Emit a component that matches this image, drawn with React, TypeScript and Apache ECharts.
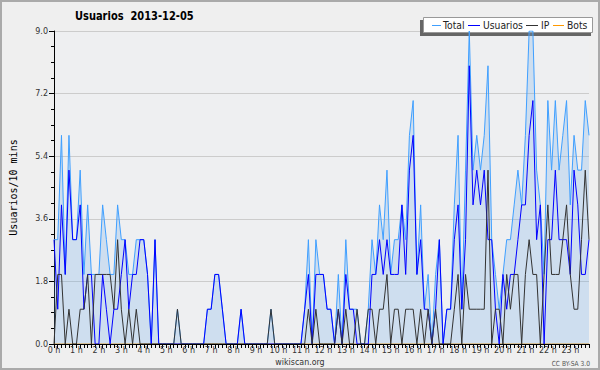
import React, { useEffect, useRef } from "react";
import * as echarts from "echarts";

const hourLabels = [
  "0 h", "1 h", "2 h", "3 h", "4 h", "5 h", "6 h", "7 h", "8 h", "9 h", "10 h", "11 h",
  "12 h", "13 h", "14 h", "15 h", "16 h", "17 h", "18 h", "19 h", "20 h", "21 h", "22 h", "23 h",
];
const minuteSteps = ["", ":10", ":20", ":30", ":40", ":50"];
const yTicks = [0, 1.8, 3.6, 5.4, 7.2, 9.0];
const seriesNames = ["Total", "Usuarios", "IP", "Bots"];
const seriesColors = ["#3f9fff", "#0000ff", "#333333", "#ff9900"];

const total = [
  3, 3, 6, 2, 6, 3, 3, 5, 2, 4, 2, 2, 2, 4, 3, 2, 2, 4, 3, 3, 2, 2, 3, 3,
  3, 2, 0, 3, 0, 0, 0, 0, 0, 1, 0, 0, 0, 0, 0, 0, 0, 1, 1, 2, 2, 1, 0, 0,
  0, 0, 1, 0, 0, 0, 0, 0, 0, 0, 1, 0, 0, 0, 0, 0, 0, 0, 0, 1, 3, 0, 3, 2,
  2, 1, 1, 0, 2, 0, 3, 1, 1, 1, 0, 0, 1, 3, 2, 4, 3, 5, 2, 3, 3, 4, 3, 6,
  7, 2, 4, 1, 2, 0, 2, 3, 0, 1, 1, 4, 6, 1, 5, 9, 5, 6, 5, 6, 8, 3, 2, 1,
  2, 3, 3, 4, 5, 4, 6, 9, 9, 5, 4, 2, 7, 5, 7, 5, 6, 7, 4, 6, 5, 5, 7, 6,
];
const usuarios = [
  3, 1, 4, 2, 5, 3, 3, 4, 1, 2, 2, 0, 0, 2, 1, 0, 1, 1, 2, 3, 1, 2, 2, 3,
  3, 2, 0, 3, 0, 0, 0, 0, 0, 0, 0, 0, 0, 0, 0, 0, 0, 1, 1, 2, 2, 1, 0, 0,
  0, 0, 1, 0, 0, 0, 0, 0, 0, 0, 0, 0, 0, 0, 0, 0, 0, 0, 0, 1, 2, 0, 2, 2,
  2, 1, 1, 0, 1, 0, 2, 1, 1, 0, 0, 0, 0, 2, 2, 3, 2, 3, 2, 2, 2, 4, 2, 5,
  6, 2, 3, 1, 1, 0, 1, 3, 0, 1, 1, 3, 4, 1, 3, 8, 4, 5, 4, 5, 3, 3, 1, 0,
  2, 1, 2, 2, 3, 4, 4, 6, 7, 3, 4, 0, 3, 3, 5, 3, 3, 3, 2, 5, 4, 2, 2, 3,
];
const ip = [
  0, 2, 2, 0, 1, 0, 0, 1, 1, 2, 0, 2, 2, 2, 2, 2, 1, 3, 1, 0, 1, 0, 1, 0,
  0, 0, 0, 0, 0, 0, 0, 0, 0, 1, 0, 0, 0, 0, 0, 0, 0, 0, 0, 0, 0, 0, 0, 0,
  0, 0, 0, 0, 0, 0, 0, 0, 0, 0, 1, 0, 0, 0, 0, 0, 0, 0, 0, 0, 1, 0, 1, 0,
  0, 0, 0, 0, 1, 0, 1, 0, 0, 1, 0, 0, 1, 1, 0, 1, 1, 2, 0, 1, 1, 0, 1, 1,
  1, 0, 1, 0, 1, 0, 1, 0, 0, 0, 0, 1, 2, 0, 2, 1, 1, 1, 1, 1, 5, 0, 1, 1,
  0, 2, 1, 2, 2, 0, 2, 3, 2, 2, 0, 2, 4, 2, 2, 2, 3, 4, 2, 1, 1, 3, 5, 3,
];
const bots = [
  0, 0, 0, 0, 0, 0, 0, 0, 0, 0, 0, 0, 0, 0, 0, 0, 0, 0, 0, 0, 0, 0, 0, 0,
  0, 0, 0, 0, 0, 0, 0, 0, 0, 0, 0, 0, 0, 0, 0, 0, 0, 0, 0, 0, 0, 0, 0, 0,
  0, 0, 0, 0, 0, 0, 0, 0, 0, 0, 0, 0, 0, 0, 0, 0, 0, 0, 0, 0, 0, 0, 0, 0,
  0, 0, 0, 0, 0, 0, 0, 0, 0, 0, 0, 0, 0, 0, 0, 0, 0, 0, 0, 0, 0, 0, 0, 0,
  0, 0, 0, 0, 0, 0, 0, 0, 0, 0, 0, 0, 0, 0, 0, 0, 0, 0, 0, 0, 0, 0, 0, 0,
  0, 0, 0, 0, 0, 0, 0, 0, 0, 0, 0, 0, 0, 0, 0, 0, 0, 0, 0, 0, 0, 0, 0, 0,
];

const FONT = "'DejaVu Sans', sans-serif";

export default function App() {
  const ref = useRef<HTMLDivElement>(null);
  useEffect(() => {
    document.body.style.margin = "0";
    if (!ref.current) return;
    const chart = echarts.init(ref.current, undefined, { renderer: "svg" });
    const categories: string[] = [];
    hourLabels.forEach((h) => minuteSteps.forEach((m) => categories.push(h + m)));
    const dataSets = [total, usuarios, ip, bots];

    const series = seriesNames.map((name, k) => {
      const color = seriesColors[k];
      const s: any = {
        name,
        type: "line",
        data: dataSets[k],
        symbol: "none",
        showSymbol: false,
        color,
        lineStyle: { color, width: 1 },
        itemStyle: { color },
        z: k === 3 ? 1 : 2,
      };
      if (k === 0) s.areaStyle = { color: "rgba(100,170,235,0.33)" };
      return s;
    });

    // hand-drawn legend (condensed look)
    const legendLines = [
      [432, 441],
      [468, 480],
      [526, 538],
      [553, 564],
    ];
    const legendTextX = [443, 483, 541, 567];
    const legendEls: any[] = [];
    seriesNames.forEach((name, k) => {
      legendEls.push({
        type: "line",
        z: 3,
        shape: { x1: legendLines[k][0], y1: 25.5, x2: legendLines[k][1], y2: 25.5 },
        style: { stroke: seriesColors[k], lineWidth: 1 },
      });
      legendEls.push({
        type: "text",
        z: 3,
        x: legendTextX[k],
        y: 25.5,
        scaleX: 0.84,
        style: {
          text: name,
          fontSize: 11,
          fontFamily: FONT,
          fill: "#222",
          verticalAlign: "middle",
          textVerticalAlign: "middle",
        },
      });
    });

    chart.setOption({
      animation: false,
      backgroundColor: "#efefef",
      textStyle: { fontFamily: FONT },
      grid: {
        left: 46,
        right: 11,
        top: 31,
        bottom: 26,
        show: true,
        backgroundColor: "#eeeff1",
        borderWidth: 0,
      },
      xAxis: {
        type: "category",
        data: categories,
        boundaryGap: false,
        z: 10,
        axisLine: { show: true, lineStyle: { color: "#000", width: 1 } },
        axisTick: { show: true, interval: 0, length: 4, lineStyle: { color: "#000" } },
        axisLabel: { interval: 5, fontSize: 8, color: "#333", margin: 2, fontFamily: FONT },
        splitLine: { show: false },
      },
      yAxis: {
        type: "value",
        min: yTicks[0],
        max: yTicks[yTicks.length - 1],
        interval: yTicks[1] - yTicks[0],
        name: "Usuarios/10 mins",
        nameLocation: "middle",
        nameRotate: 90,
        nameGap: 36,
        nameTextStyle: { fontSize: 10, color: "#000", fontFamily: "'DejaVu Sans Mono', monospace" },
        axisLine: { show: true, lineStyle: { color: "#000", width: 1 } },
        axisTick: { show: true, length: 5, lineStyle: { color: "#000" } },
        minorTick: { show: true, splitNumber: 4, length: 3, lineStyle: { color: "#000" } },
        axisLabel: {
          fontSize: 8,
          color: "#333",
          margin: 6,
          fontFamily: FONT,
          formatter: (v: number) => v.toFixed(1),
        },
        splitLine: { show: true, lineStyle: { color: "#cccccc", width: 1 } },
      },
      graphic: [
        {
          type: "rect",
          z: 0,
          shape: { x: 1, y: 1, width: 598, height: 368 },
          style: { fill: "none", stroke: "#aaaaaa", lineWidth: 2 },
        },
        {
          type: "text",
          z: 3,
          x: 75,
          y: 16.5,
          scaleX: 0.86,
          style: {
            text: "Usuarios  2013-12-05",
            fontSize: 11.5,
            fontWeight: "bold",
            fontFamily: FONT,
            fill: "#000",
            verticalAlign: "middle",
            textVerticalAlign: "middle",
          },
        },
        {
          type: "rect",
          z: 1,
          shape: { x: 420, y: 20, width: 171, height: 16 },
          style: { fill: "#666666" },
        },
        {
          type: "rect",
          z: 2,
          shape: { x: 423.5, y: 17.5, width: 169, height: 15 },
          style: { fill: "#ffffff", stroke: "#999999", lineWidth: 1 },
        },
        ...legendEls,
        {
          type: "text",
          x: 300,
          y: 362,
          scaleX: 0.88,
          style: {
            text: "wikiscan.org",
            fontSize: 9,
            fill: "#333",
            fontFamily: FONT,
            align: "center",
            textAlign: "center",
            verticalAlign: "middle",
            textVerticalAlign: "middle",
          },
        },
        {
          type: "text",
          x: 590,
          y: 364,
          scaleX: 0.85,
          style: {
            text: "CC BY-SA 3.0",
            fontSize: 7,
            fill: "#555",
            fontFamily: FONT,
            align: "right",
            textAlign: "right",
            verticalAlign: "middle",
            textVerticalAlign: "middle",
          },
        },
      ],
      series,
    });
    return () => chart.dispose();
  }, []);
  return <div ref={ref} style={{ width: 600, height: 370 }} />;
}
